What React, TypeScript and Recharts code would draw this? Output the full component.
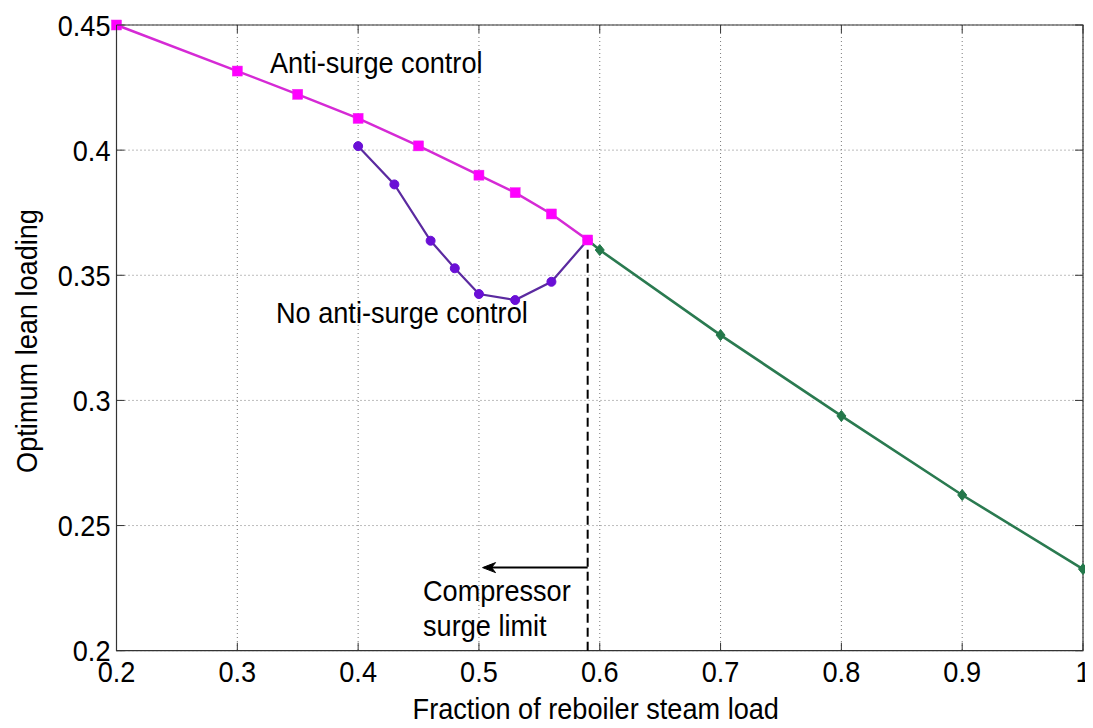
import React from "react";
import {
  LineChart,
  Line,
  XAxis,
  YAxis,
  CartesianGrid,
  ReferenceLine,
  ReferenceArea,
  ReferenceDot,
} from "recharts";

// Anti-surge control case
const antiX = [0.2, 0.3, 0.35, 0.4, 0.45, 0.5, 0.53, 0.56, 0.59];
const antiY = [0.45, 0.4316, 0.4223, 0.4127, 0.4017, 0.39, 0.383, 0.3745, 0.3641];

// No anti-surge control case
const noAntiX = [0.4, 0.43, 0.46, 0.48, 0.5, 0.53, 0.56, 0.59];
const noAntiY = [0.4016, 0.3863, 0.3638, 0.3528, 0.3425, 0.3401, 0.3474, 0.3641];

// Above the surge limit both cases coincide
const highX = [0.59, 0.6, 0.7, 0.8, 0.9, 1.0];
const highY = [0.3641, 0.3601, 0.3261, 0.2938, 0.2622, 0.2326];

const xTicks = [0.2, 0.3, 0.4, 0.5, 0.6, 0.7, 0.8, 0.9, 1];
const yTicks = [0.2, 0.25, 0.3, 0.35, 0.4, 0.45];

const surgeLimit = 0.59;
const arrowY = 0.2332;
const arrowTo = 0.503;

const toRows = (xs: number[], ys: number[]) => xs.map((x, i) => ({ x, y: ys[i] }));
const antiData = toRows(antiX, antiY);
const noAntiData = toRows(noAntiX, noAntiY);
const highData = toRows(highX, highY);

const FONT = "'Liberation Sans', Arial, Helvetica, sans-serif";
const FS = 29.5;
const SX = 0.92; // narrow the glyphs a little

const W = 1085;
const H = 720;
const M = { top: 17, right: 10, left: 0, bottom: 0 };
const Y_AXIS_W = 108.5;
const X_AXIS_H = 77.3;
const PLOT_TOP = M.top;
const PLOT_RIGHT = W - M.right;
const TICK = 8;
const AXIS_COLOR = "#333";

// Text drawn with slightly condensed glyphs
const T = ({
  x,
  y,
  anchor = "start",
  rotate = 0,
  dy,
  children,
}: {
  x: number;
  y: number;
  anchor?: "start" | "middle" | "end";
  rotate?: number;
  dy?: string;
  children: React.ReactNode;
}) => (
  <text
    x={0}
    y={0}
    dy={dy}
    transform={`translate(${x} ${y}) rotate(${rotate}) scale(${SX} 1)`}
    textAnchor={anchor}
    fontFamily={FONT}
    fontSize={FS}
    fill="#000"
  >
    {children}
  </text>
);

const BottomTick = (props: any) => {
  const { x, y, payload } = props;
  return (
    <g>
      <line x1={x} y1={y} x2={x} y2={y - TICK} stroke={AXIS_COLOR} strokeWidth={1} />
      <line x1={x} y1={PLOT_TOP} x2={x} y2={PLOT_TOP + TICK} stroke={AXIS_COLOR} strokeWidth={1} />
      <T x={x} y={y + 31.5} anchor="middle">
        {String(payload.value)}
      </T>
    </g>
  );
};

const LeftTick = (props: any) => {
  const { x, y, payload } = props;
  return (
    <g>
      <line x1={x} y1={y} x2={x + TICK} y2={y} stroke={AXIS_COLOR} strokeWidth={1} />
      <line x1={PLOT_RIGHT} y1={y} x2={PLOT_RIGHT - TICK} y2={y} stroke={AXIS_COLOR} strokeWidth={1} />
      <T x={x - 6} y={y} dy="0.36em" anchor="end">
        {String(payload.value)}
      </T>
    </g>
  );
};

const SquareDot = (props: any) => {
  const { cx, cy } = props;
  if (cx == null || cy == null) return <g />;
  return <rect x={cx - 5} y={cy - 5} width={10} height={10} fill="#ff00ff" stroke="#ee22ee" strokeWidth={0.5} />;
};

const CircleDot = (props: any) => {
  const { cx, cy } = props;
  if (cx == null || cy == null) return <g />;
  return <circle cx={cx} cy={cy} r={4.5} fill="#6a0fd6" stroke="#6a0fd6" />;
};

const DiamondDot = (props: any) => {
  const { cx, cy, index } = props;
  if (cx == null || cy == null || index === 0) return <g />;
  return (
    <path
      d={`M${cx},${cy - 5.5} L${cx + 4.5},${cy} L${cx},${cy + 5.5} L${cx - 4.5},${cy} Z`}
      fill="#23784a"
      stroke="#23784a"
    />
  );
};

const Note = (text: string) => (props: any) => {
  const { cx, cy } = props;
  return (
    <T x={cx} y={cy}>
      {text}
    </T>
  );
};

const ArrowShape = (props: any) => {
  const { x1, y1, x2, y2 } = props;
  return (
    <g>
      <line x1={x1} y1={y1} x2={x2 + 6} y2={y2} stroke="#000" strokeWidth={2} />
      <path
        d={`M${x2},${y2} L${x2 + 13},${y2 - 5} L${x2 + 9},${y2} L${x2 + 13},${y2 + 5} Z`}
        fill="#000"
        stroke="#000"
        strokeWidth={1}
      />
    </g>
  );
};

export default function App() {
  return (
    <div style={{ width: W, height: H, background: "#fff" }}>
      <LineChart width={W} height={H} margin={M}>
        <CartesianGrid stroke="#7a7a7a" strokeDasharray="1 3" strokeWidth={1} />
        <ReferenceArea
          x1={0.2}
          x2={1}
          y1={0.2}
          y2={0.45}
          fill="none"
          fillOpacity={0}
          stroke={AXIS_COLOR}
          strokeWidth={1.2}
          ifOverflow="visible"
        />
        <XAxis
          type="number"
          dataKey="x"
          domain={[0.2, 1]}
          ticks={xTicks}
          height={X_AXIS_H}
          axisLine={false}
          tickLine={false}
          tickSize={0}
          tickMargin={0}
          tick={<BottomTick />}
          interval={0}
          allowDuplicatedCategory={false}
        />
        <YAxis
          type="number"
          dataKey="y"
          domain={[0.2, 0.45]}
          ticks={yTicks}
          width={Y_AXIS_W}
          axisLine={false}
          tickLine={false}
          tickSize={0}
          tickMargin={0}
          tick={<LeftTick />}
          interval={0}
        />
        <ReferenceLine
          segment={[
            { x: surgeLimit, y: 0.2 },
            { x: surgeLimit, y: highY[0] },
          ]}
          stroke="#000"
          strokeWidth={2}
          strokeDasharray="9 5"
          ifOverflow="visible"
        />
        <ReferenceLine
          segment={[
            { x: surgeLimit, y: arrowY },
            { x: arrowTo, y: arrowY },
          ]}
          shape={<ArrowShape />}
          ifOverflow="visible"
        />
        <Line
          data={noAntiData}
          dataKey="y"
          type="linear"
          stroke="#5b2aa0"
          strokeWidth={2.2}
          dot={<CircleDot />}
          activeDot={false}
          isAnimationActive={false}
        />
        <Line
          data={antiData}
          dataKey="y"
          type="linear"
          stroke="#d52ad5"
          strokeWidth={2.5}
          dot={<SquareDot />}
          activeDot={false}
          isAnimationActive={false}
        />
        <Line
          data={highData}
          dataKey="y"
          type="linear"
          stroke="#2a7a50"
          strokeWidth={2.6}
          dot={<DiamondDot />}
          activeDot={false}
          isAnimationActive={false}
        />
        <ReferenceDot x={0.327} y={0.4308} r={0} shape={Note("Anti-surge control")} ifOverflow="visible" />
        <ReferenceDot x={0.332} y={0.331} r={0} shape={Note("No anti-surge control")} ifOverflow="visible" />
        <ReferenceDot x={0.4537} y={0.2199} r={0} shape={Note("Compressor")} ifOverflow="visible" />
        <ReferenceDot x={0.4537} y={0.206} r={0} shape={Note("surge limit")} ifOverflow="visible" />
        <T x={(Y_AXIS_W + PLOT_RIGHT) / 2 - 4} y={711} anchor="middle">
          Fraction of reboiler steam load
        </T>
        <T x={29} y={333} anchor="middle" rotate={-90}>
          Optimum lean loading
        </T>
      </LineChart>
    </div>
  );
}
